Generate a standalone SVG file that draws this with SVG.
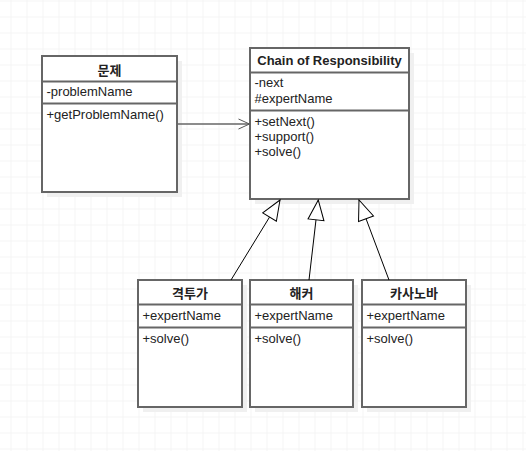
<svg xmlns="http://www.w3.org/2000/svg" width="526" height="451" viewBox="0 0 526 451">
<defs>
  <pattern id="grid" x="10.5" y="0.5" width="16" height="16" patternUnits="userSpaceOnUse">
    <path d="M 0 0 L 16 0 M 0 0 L 0 16" fill="none" stroke="#ebebeb" stroke-width="1"/>
  </pattern>
  <marker id="tri" viewBox="0 0 22 18" refX="21" refY="9" markerWidth="22" markerHeight="18" markerUnits="userSpaceOnUse" orient="auto">
    <path d="M 21 9 L 1 1 L 1 17 Z" fill="#ffffff" stroke="#000000" stroke-width="1"/>
  </marker>
</defs>
<style>
  .shadow { fill: #f0f0f0; stroke: none; }
  .box { fill: #ffffff; stroke: #666666; stroke-width: 2; }
  .div { stroke: #666666; stroke-width: 2; fill: none; }
  .t { font-family: "Liberation Sans", "Noto Sans CJK KR", sans-serif; font-size: 13px; fill: #222222; }
  .h { font-family: "Liberation Sans", "Noto Sans CJK KR", sans-serif; font-size: 13px; font-weight: bold; fill: #222222; text-anchor: middle; }
  .gen { stroke: #000000; stroke-width: 1; fill: none; }
  .assoc { stroke: #666666; stroke-width: 1.5; fill: none; }
</style>
<rect x="0" y="0" width="526" height="451" fill="#ffffff"/>
<rect x="0" y="0" width="526" height="451" fill="url(#grid)"/>

<g id="node-problem">
  <rect class="shadow" x="47" y="61" width="135" height="136"/>
  <rect class="box" x="42" y="56" width="135" height="136"/>
  <path class="div" d="M 42 81.5 L 177 81.5 M 42 103.5 L 177 103.5"/>
  <text class="h" x="109.5" y="75">문제</text>
  <text class="t" x="46.5" y="96">-problemName</text>
  <text class="t" x="46.5" y="118.5">+getProblemName()</text>
</g>

<g id="node-chain">
  <rect class="shadow" x="255" y="53" width="159" height="151"/>
  <rect class="box" x="250" y="48" width="159" height="151"/>
  <path class="div" d="M 250 72.5 L 409 72.5 M 250 110.5 L 409 110.5"/>
  <text class="h" x="329.5" y="64.5">Chain of Responsibility</text>
  <text class="t" x="254.5" y="87">-next</text>
  <text class="t" x="254.5" y="102.5">#expertName</text>
  <text class="t" x="254.5" y="125.5">+setNext()</text>
  <text class="t" x="254.5" y="140.5">+support()</text>
  <text class="t" x="254.5" y="155.5">+solve()</text>
</g>

<g id="node-fighter">
  <rect class="shadow" x="143" y="285" width="104" height="127"/>
  <rect class="box" x="138" y="280" width="104" height="127"/>
  <path class="div" d="M 138 304.5 L 242 304.5 M 138 327.5 L 242 327.5"/>
  <text class="h" x="190" y="298">격투가</text>
  <text class="t" x="142.5" y="320">+expertName</text>
  <text class="t" x="142.5" y="342.5">+solve()</text>
</g>

<g id="node-hacker">
  <rect class="shadow" x="255" y="285" width="103" height="127"/>
  <rect class="box" x="250" y="280" width="103" height="127"/>
  <path class="div" d="M 250 304.5 L 353 304.5 M 250 327.5 L 353 327.5"/>
  <text class="h" x="301.5" y="298">해커</text>
  <text class="t" x="254.5" y="320">+expertName</text>
  <text class="t" x="254.5" y="342.5">+solve()</text>
</g>

<g id="node-casanova">
  <rect class="shadow" x="367" y="285" width="104" height="127"/>
  <rect class="box" x="362" y="280" width="104" height="127"/>
  <path class="div" d="M 362 304.5 L 466 304.5 M 362 327.5 L 466 327.5"/>
  <text class="h" x="414" y="298">카사노바</text>
  <text class="t" x="366.5" y="320">+expertName</text>
  <text class="t" x="366.5" y="342.5">+solve()</text>
</g>

<g id="connectors">
  <path class="assoc" d="M 177 124 L 249 124"/>
  <path d="M 238.5 119 L 249.5 124 L 238.5 129" fill="none" stroke="#555555" stroke-width="1"/>
  <path class="gen" d="M 231 280 L 280 200" marker-end="url(#tri)"/>
  <path class="gen" d="M 309 280 L 318.3 200" marker-end="url(#tri)"/>
  <path class="gen" d="M 389 280 L 359 200" marker-end="url(#tri)"/>
</g>
</svg>
